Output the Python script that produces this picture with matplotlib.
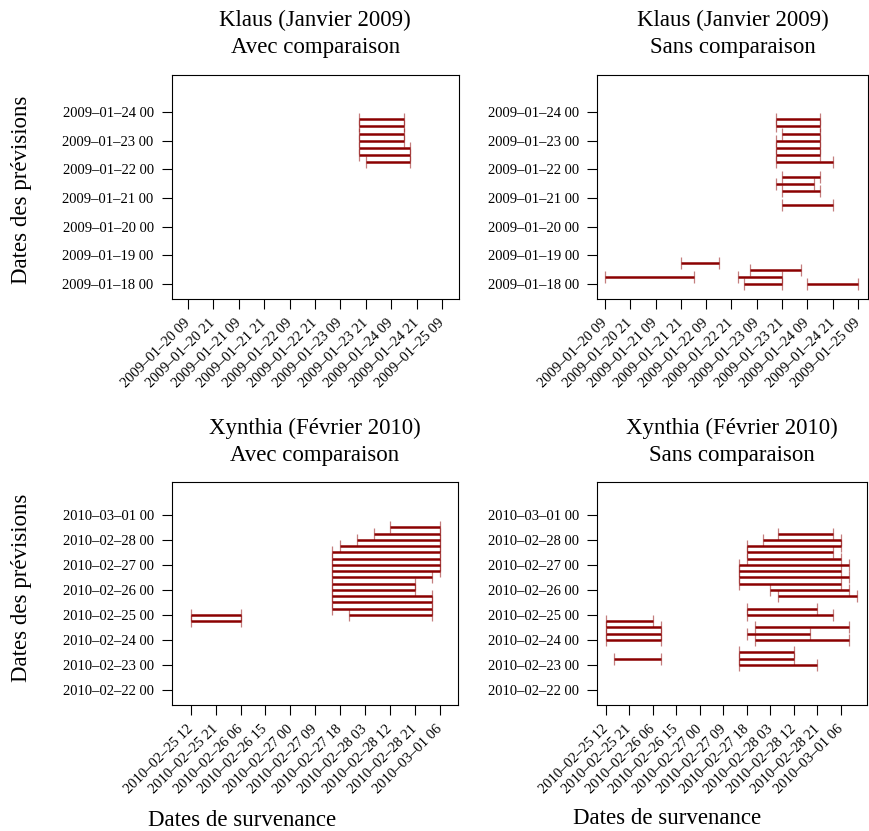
import matplotlib
matplotlib.use("Agg")
import matplotlib.pyplot as plt
import matplotlib.dates as mdates
import pandas as pd

plt.rcParams['font.family'] = ['Liberation Serif', 'DejaVu Serif']

# ---- data: forecast date -> interval of occurrence (start, end) ----
klaus_avec_prev = ["2009-01-23 18", "2009-01-23 12", "2009-01-23 06", "2009-01-23 00",
                   "2009-01-22 18", "2009-01-22 12", "2009-01-22 06"]
klaus_avec_deb = ["2009-01-23 18", "2009-01-23 18", "2009-01-23 18", "2009-01-23 18",
                  "2009-01-23 18", "2009-01-23 18", "2009-01-23 21"]
klaus_avec_fin = ["2009-01-24 15", "2009-01-24 15", "2009-01-24 15", "2009-01-24 15",
                  "2009-01-24 18", "2009-01-24 18", "2009-01-24 18"]

klaus_sans_prev = ["2009-01-23 18", "2009-01-23 12", "2009-01-23 06", "2009-01-23 00",
                   "2009-01-22 18", "2009-01-22 12", "2009-01-22 06", "2009-01-21 18",
                   "2009-01-21 12", "2009-01-21 06", "2009-01-20 18", "2009-01-18 18",
                   "2009-01-18 12", "2009-01-18 06", "2009-01-18 06", "2009-01-18 00",
                   "2009-01-18 00"]
klaus_sans_deb = ["2009-01-23 18", "2009-01-23 18", "2009-01-23 21", "2009-01-23 18",
                  "2009-01-23 18", "2009-01-23 18", "2009-01-23 18", "2009-01-23 21",
                  "2009-01-23 18", "2009-01-23 21", "2009-01-23 21", "2009-01-21 21",
                  "2009-01-23 06", "2009-01-20 09", "2009-01-23 00", "2009-01-23 03",
                  "2009-01-24 09"]
klaus_sans_fin = ["2009-01-24 15", "2009-01-24 15", "2009-01-24 15", "2009-01-24 15",
                  "2009-01-24 15", "2009-01-24 15", "2009-01-24 21", "2009-01-24 15",
                  "2009-01-24 12", "2009-01-24 15", "2009-01-24 21", "2009-01-22 15",
                  "2009-01-24 06", "2009-01-22 03", "2009-01-23 21", "2009-01-23 21",
                  "2009-01-25 09"]

xyn_avec_prev = ["2010-02-28 12", "2010-02-28 06", "2010-02-28 00", "2010-02-27 18",
                 "2010-02-27 12", "2010-02-27 06", "2010-02-27 00", "2010-02-26 18",
                 "2010-02-26 12", "2010-02-26 06", "2010-02-26 00", "2010-02-25 18",
                 "2010-02-25 12", "2010-02-25 06", "2010-02-25 00", "2010-02-25 00",
                 "2010-02-24 18"]
xyn_avec_deb = ["2010-02-28 12", "2010-02-28 06", "2010-02-28 00", "2010-02-27 18",
                "2010-02-27 15", "2010-02-27 15", "2010-02-27 15", "2010-02-27 15",
                "2010-02-27 15", "2010-02-27 15", "2010-02-27 15", "2010-02-27 15",
                "2010-02-27 15", "2010-02-27 15", "2010-02-27 21", "2010-02-25 12",
                "2010-02-25 12"]
xyn_avec_fin = ["2010-03-01 06", "2010-03-01 06", "2010-03-01 06", "2010-03-01 06",
                "2010-03-01 06", "2010-03-01 06", "2010-03-01 06", "2010-03-01 06",
                "2010-03-01 03", "2010-02-28 21", "2010-02-28 21", "2010-03-01 03",
                "2010-03-01 03", "2010-03-01 03", "2010-03-01 03", "2010-02-26 06",
                "2010-02-26 06"]

xyn_sans_prev = ["2010-02-28 06", "2010-02-28 00", "2010-02-27 18", "2010-02-27 12",
                 "2010-02-27 06", "2010-02-27 00", "2010-02-26 18", "2010-02-26 12",
                 "2010-02-26 06", "2010-02-26 00", "2010-02-25 18", "2010-02-25 06",
                 "2010-02-25 00", "2010-02-24 18", "2010-02-24 12", "2010-02-24 12",
                 "2010-02-24 06", "2010-02-24 06", "2010-02-24 00", "2010-02-24 00",
                 "2010-02-23 12", "2010-02-23 06", "2010-02-23 06", "2010-02-23 00"]
xyn_sans_deb = ["2010-02-28 06", "2010-02-28 00", "2010-02-27 18", "2010-02-27 18",
                "2010-02-27 18", "2010-02-27 15", "2010-02-27 15", "2010-02-27 15",
                "2010-02-27 15", "2010-02-28 03", "2010-02-28 06", "2010-02-27 18",
                "2010-02-27 18", "2010-02-25 12", "2010-02-25 12", "2010-02-27 21",
                "2010-02-25 12", "2010-02-27 18", "2010-02-25 12", "2010-02-27 21",
                "2010-02-27 15", "2010-02-25 15", "2010-02-27 15", "2010-02-27 15"]
xyn_sans_fin = ["2010-03-01 03", "2010-03-01 06", "2010-03-01 06", "2010-03-01 03",
                "2010-03-01 06", "2010-03-01 09", "2010-03-01 06", "2010-03-01 09",
                "2010-03-01 06", "2010-03-01 09", "2010-03-01 12", "2010-02-28 21",
                "2010-03-01 03", "2010-02-26 06", "2010-02-26 09", "2010-03-01 09",
                "2010-02-26 09", "2010-02-28 18", "2010-02-26 09", "2010-03-01 09",
                "2010-02-28 12", "2010-02-26 09", "2010-02-28 12", "2010-02-28 21"]

klaus_yticks = pd.date_range("2009-01-18 00:00", "2009-01-24 00:00", freq="24h")
klaus_xticks = pd.date_range("2009-01-20 09:00", "2009-01-25 09:00", freq="12h")
xyn_yticks = pd.date_range("2010-02-22 00:00", "2010-03-01 00:00", freq="24h")
xyn_xticks = pd.date_range("2010-02-25 12:00", "2010-03-01 06:00", freq="9h")

W, H = 869, 831
RED = "#8b0000"


def num(lst):
    return mdates.date2num(pd.to_datetime(lst, format="%Y-%m-%d %H"))


def lab(ticks):
    return [t.strftime("%Y\u2013%m\u2013%d %H") for t in ticks]


def panel(box, xref, yref, prev, deb, fin, xticks, yticks, title):
    # box = (left, right, top, bottom) in pixels
    # xref = (pixel of first x tick, pixels per hour), yref likewise for first y tick
    L, R, T, B = box
    ax = fig.add_axes([L / W, 1 - B / H, (R - L) / W, (B - T) / H])
    x0 = mdates.date2num(xticks[0])
    y0 = mdates.date2num(yticks[0])
    ax.set_xlim(x0 + (L - xref[0]) / xref[1] / 24, x0 + (R - xref[0]) / xref[1] / 24)
    ax.set_ylim(y0 + (yref[0] - B) / yref[1] / 24, y0 + (yref[0] - T) / yref[1] / 24)

    y = num(prev)
    a = num(deb)
    b = num(fin)
    ax.hlines(y, a, b, color=RED, lw=1.8)
    ax.plot(a, y, ls="none", marker="|", ms=9, mew=0.9, color=RED, alpha=0.5)
    ax.plot(b, y, ls="none", marker="|", ms=9, mew=0.9, color=RED, alpha=0.5)

    ax.set_xticks(mdates.date2num(xticks))
    ax.set_xticklabels(lab(xticks), rotation=45, ha="right", va="center",
                       rotation_mode="anchor", fontsize=10.5)
    ax.set_yticks(mdates.date2num(yticks))
    ax.set_yticklabels(lab(yticks), fontsize=10.5)
    ax.tick_params(direction="out", length=7, width=0.8)
    ax.tick_params(axis="x", pad=9)
    ax.tick_params(axis="y", pad=6)
    for s in ax.spines.values():
        s.set_linewidth(0.8)

    cx = (L + R) / 2 / W
    fig.text(cx, 1 - (T - 54) / H, title[0], ha="center", va="center", fontsize=16.5)
    fig.text(cx, 1 - (T - 27) / H, title[1], ha="center", va="center", fontsize=16.5)
    return ax


fig = plt.figure(figsize=(W / 100, H / 100), dpi=100)

panel((171.7, 459, 74.7, 298.7), (188, 2.117), (284, 1.194),
      klaus_avec_prev, klaus_avec_deb, klaus_avec_fin, klaus_xticks, klaus_yticks,
      ("Klaus (Janvier 2009)", "Avec comparaison"))
panel((597, 868, 74.7, 298.7), (605, 2.108), (284, 1.194),
      klaus_sans_prev, klaus_sans_deb, klaus_sans_fin, klaus_xticks, klaus_yticks,
      ("Klaus (Janvier 2009)", "Sans comparaison"))
panel((172, 458, 482, 705), (190.7, 2.770), (690, 1.0417),
      xyn_avec_prev, xyn_avec_deb, xyn_avec_fin, xyn_xticks, xyn_yticks,
      ("Xynthia (F\u00e9vrier 2010)", "Avec comparaison"))
panel((597, 867, 482, 705), (606, 2.611), (690, 1.0417),
      xyn_sans_prev, xyn_sans_deb, xyn_sans_fin, xyn_xticks, xyn_yticks,
      ("Xynthia (F\u00e9vrier 2010)", "Sans comparaison"))

fig.text(22 / W, 1 - 190 / H, "Dates des pr\u00e9visions", rotation=90,
         ha="center", va="center", fontsize=16.5)
fig.text(22 / W, 1 - 588 / H, "Dates des pr\u00e9visions", rotation=90,
         ha="center", va="center", fontsize=16.5)
fig.text(242 / W, 1 - 820 / H, "Dates de survenance", ha="center", va="center",
         fontsize=16.5)
fig.text(667 / W, 1 - 818 / H, "Dates de survenance", ha="center", va="center",
         fontsize=16.5)

fig.savefig("out.png", dpi=100)
